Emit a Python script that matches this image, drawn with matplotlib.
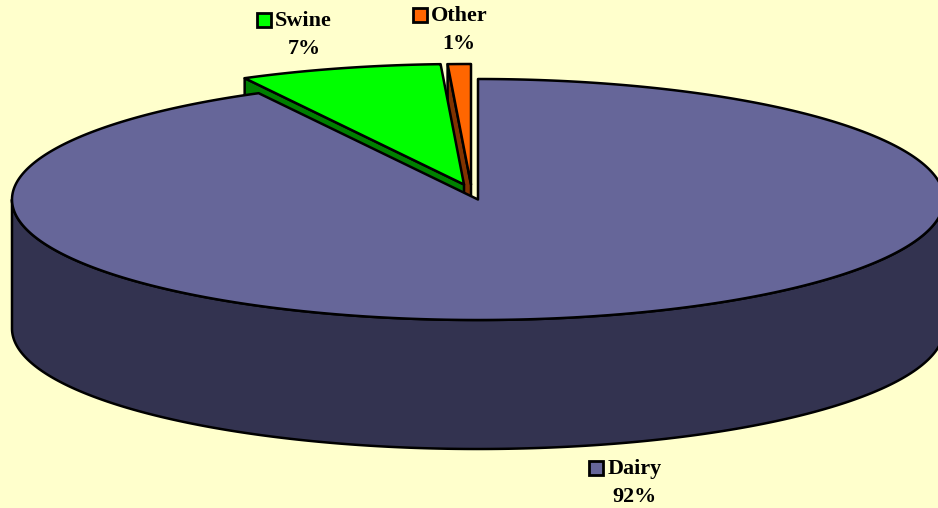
import numpy as np
import matplotlib
matplotlib.use("Agg")
import matplotlib.pyplot as plt
from matplotlib.patches import Polygon, Rectangle

categories = ["Dairy", "Swine", "Other"]
shares = [92.2, 7.0, 0.8]
pct_labels = ["92%", "7%", "1%"]

top_colors = ["#666699", "#00FF00", "#FF6600"]
wall_colors = ["#333350", "#008000", "#803300"]
BG = "#FFFFCC"

CX, CY, A, B, DEPTH = 478.0, 199.5, 466.0, 120.5, 129.0
offsets = [(0, 0), (-14, -15), (-7, -15)]
EDGE = dict(edgecolor="black", linewidth=1.8, joinstyle="round")

fig = plt.figure(figsize=(9.38, 5.08), dpi=100, facecolor=BG)
ax = fig.add_axes([0, 0, 1, 1])
ax.set_xlim(0, 938)
ax.set_ylim(508, 0)
ax.axis("off")


def pt(t, off=(0, 0), dz=0.0):
    t = np.asarray(t, dtype=float)
    return np.column_stack([CX + off[0] + A * np.sin(t),
                            CY + off[1] - B * np.cos(t) + dz])


# angular spans, clockwise from 12 o'clock, in order of the shares
cum = np.cumsum([0] + shares) / sum(shares) * 2 * np.pi
spans = list(zip(cum[:-1], cum[1:]))


def top(i, z):
    s, e = spans[i]
    ts = np.linspace(s, e, 400)
    apex = np.array([[CX + offsets[i][0], CY + offsets[i][1]]])
    ax.add_patch(Polygon(np.vstack([apex, pt(ts, offsets[i])]), closed=True,
                         facecolor=top_colors[i], zorder=z, **EDGE))


def radial_wall(i, z):
    # wall on the slice's starting radius, extruded downward
    s = spans[i][0]
    off = offsets[i]
    p = pt([s], off)[0]
    apex = np.array([CX + off[0], CY + off[1]])
    d = np.array([0, DEPTH])
    ax.add_patch(Polygon([apex, p, p + d, apex + d], closed=True,
                         facecolor=wall_colors[i], zorder=z, **EDGE))


# exploded slices first: the large slice covers most of their walls
radial_wall(2, 1)
radial_wall(1, 2)
top(1, 3)
top(2, 4)

# outer wall of the large slice, front half of the rim
ts = np.linspace(np.pi / 2, 3 * np.pi / 2, 500)
front = pt(ts)
wall = np.vstack([front, pt(ts[::-1], dz=DEPTH)])
ax.add_patch(Polygon(wall, closed=True, facecolor=wall_colors[0], zorder=5, **EDGE))
top(0, 6)

font = dict(family="Liberation Serif", fontweight="bold", fontsize=15.9, color="black")
key_boxes = [(589, 460.5), (257, 12.5), (412.5, 7.5)]
name_pos = [(608, 474), (275, 26), (431, 21)]
pct_pos = [(634.5, 502), (304, 54), (458.5, 49)]
for i, name in enumerate(categories):
    ax.add_patch(Rectangle(key_boxes[i], 14, 14, facecolor=top_colors[i],
                           edgecolor="black", linewidth=2.0, zorder=7))
    ax.text(*name_pos[i], name, ha="left", va="baseline", zorder=8, **font)
    ax.text(*pct_pos[i], pct_labels[i], ha="center", va="baseline", zorder=8, **font)

fig.savefig("out.png", dpi=100, facecolor=BG)
